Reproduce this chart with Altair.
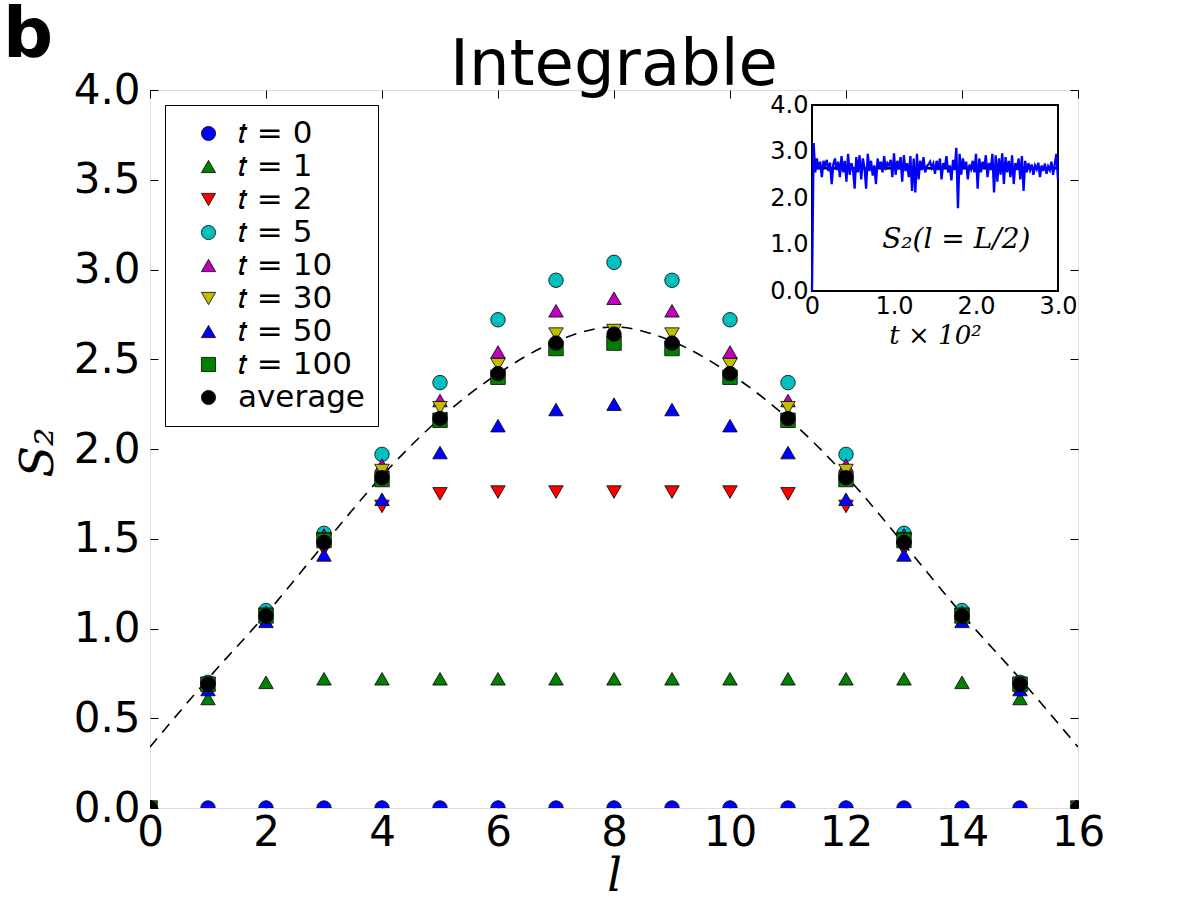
import altair as alt
import pandas as pd

# ---------------- data ----------------
l_vals = list(range(0, 17))
series_names = ["𝑡 = 0", "𝑡 = 1", "𝑡 = 2", "𝑡 = 5", "𝑡 = 10", "𝑡 = 30", "𝑡 = 50", "𝑡 = 100", "average"]
series_colors = ["#0000ff", "#008000", "#ff0000", "#00bfbf", "#bf00bf", "#bfbf00", "#0000ff", "#008000", "#000000"]
series_shapes = ["circle", "triangle-up", "triangle-down", "circle", "triangle-up", "triangle-down", "triangle-up", "square", "circle"]

s_t0 = [0.0, 0.0, 0.0, 0.0, 0.0, 0.0, 0.0, 0.0, 0.0, 0.0, 0.0, 0.0, 0.0, 0.0, 0.0, 0.0, 0.0]
s_t1 = [0.0, 0.61, 0.70, 0.72, 0.72, 0.72, 0.72, 0.72, 0.72, 0.72, 0.72, 0.72, 0.72, 0.72, 0.70, 0.61, 0.0]
s_t2 = [0.0, 0.66, 1.04, 1.44, 1.68, 1.75, 1.76, 1.76, 1.76, 1.76, 1.76, 1.75, 1.68, 1.44, 1.04, 0.66, 0.0]
s_t5 = [0.0, 0.70, 1.10, 1.53, 1.97, 2.37, 2.72, 2.94, 3.04, 2.94, 2.72, 2.37, 1.97, 1.53, 1.10, 0.70, 0.0]
s_t10 = [0.0, 0.69, 1.09, 1.52, 1.91, 2.27, 2.54, 2.77, 2.84, 2.77, 2.54, 2.27, 1.91, 1.52, 1.09, 0.69, 0.0]
s_t30 = [0.0, 0.69, 1.08, 1.50, 1.88, 2.23, 2.47, 2.64, 2.66, 2.64, 2.47, 2.23, 1.88, 1.50, 1.08, 0.69, 0.0]
s_t50 = [0.0, 0.66, 1.04, 1.41, 1.72, 1.98, 2.13, 2.22, 2.25, 2.22, 2.13, 1.98, 1.72, 1.41, 1.04, 0.66, 0.0]
s_t100 = [0.0, 0.69, 1.07, 1.49, 1.83, 2.16, 2.40, 2.56, 2.59, 2.56, 2.40, 2.16, 1.83, 1.49, 1.07, 0.69, 0.0]
s_avg = [0.0, 0.69, 1.07, 1.48, 1.84, 2.17, 2.42, 2.59, 2.64, 2.59, 2.42, 2.17, 1.84, 1.48, 1.07, 0.69, 0.0]
all_series = [s_t0, s_t1, s_t2, s_t5, s_t10, s_t30, s_t50, s_t100, s_avg]

curve_l = list(range(0, 17))
curve_s = [0.34, 0.72, 1.08, 1.47, 1.85, 2.17, 2.42, 2.60, 2.68, 2.60, 2.42, 2.17, 1.85, 1.47, 1.08, 0.72, 0.34]

# inset: S2(l=L/2) vs time (t in units of 10^2)
inset_t = list(range(0, 301, 2))
inset_s = [
    0.00, 3.18, 2.55, 2.85, 2.62, 2.78, 2.45, 2.80, 2.70, 2.82,
    2.58, 2.76, 2.30, 2.72, 2.85, 2.60, 2.78, 2.45, 2.90, 2.55,
    2.80, 2.35, 2.95, 2.50, 2.75, 2.62, 2.20, 2.88, 2.55, 2.92,
    2.40, 2.85, 2.65, 2.20, 2.95, 2.58, 2.80, 2.48, 2.70, 2.30,
    2.85, 2.65, 2.78, 2.55, 2.90, 2.60, 2.75, 2.70, 2.82, 2.45,
    2.96, 2.50, 2.80, 2.62, 2.88, 2.35, 2.92, 2.58, 2.75, 2.45,
    2.90, 2.15, 2.85, 2.12, 2.95, 2.40, 2.80, 2.60, 2.88, 2.55,
    2.68, 2.72, 2.78, 2.65, 2.74, 2.52, 2.80, 2.60, 2.85, 2.40,
    2.75, 2.65, 2.90, 2.55, 2.70, 2.38, 2.82, 2.60, 3.08, 1.78,
    2.95, 2.50, 2.85, 2.65, 2.78, 2.40, 2.72, 2.62, 2.80, 2.55,
    2.95, 2.20, 2.85, 2.55, 2.78, 2.65, 2.92, 2.45, 2.75, 2.60,
    2.95, 2.12, 2.92, 2.35, 2.85, 2.50, 2.96, 2.30, 2.88, 2.55,
    2.80, 2.45, 2.92, 2.30, 2.75, 2.60, 2.85, 2.40, 2.90, 2.15,
    2.80, 2.55, 2.75, 2.60, 2.72, 2.50, 2.70, 2.62, 2.76, 2.45,
    2.70, 2.58, 2.74, 2.52, 2.68, 2.60, 2.78, 2.50, 2.72, 2.95,
    2.40,
]
inset_avg = 2.64
inset_label = "S₂(l = L/2)"
inset_label_pos = [1.76, 1.10]
title_text = "Integrable"
panel_text = "b"

# ---------------- frames ----------------
rows = []
for i, (name, vals) in enumerate(zip(series_names, all_series)):
    for l, v in zip(l_vals, vals):
        rows.append({"l": l, "S2": v, "series": name, "idx": i})
points_df = pd.DataFrame(rows)
curve_df = pd.DataFrame({"l": curve_l, "S2": curve_s})
inset_df = pd.DataFrame({"t": [t / 100 for t in inset_t], "S2": inset_s})
inset_frame_df = pd.DataFrame({"x0": [0.0], "x1": [3.0], "y0": [0.0], "y1": [4.0], "avg": [inset_avg]})
inset_text_df = pd.DataFrame({"x": [inset_label_pos[0]], "y": [inset_label_pos[1]], "txt": [inset_label]})

W, H = 928, 718
FONT = "DejaVu Sans"
TICK = 8

xs_main = alt.Scale(domain=[0, 16], nice=False, zero=False)
ys_main = alt.Scale(domain=[0, 4], nice=False, zero=False)
IX0, IX1, IY0, IY1 = 662, 908, 201, 15
xs_in = alt.Scale(domain=[0, 3], range=[IX0, IX1], nice=False, zero=False)
ys_in = alt.Scale(domain=[0, 4], range=[IY0, IY1], nice=False, zero=False)

common_axis = dict(grid=False, domain=False, tickColor="black", tickWidth=1,
                   labelColor="black", labelFont=FONT, labelOverlap=False, labelFlush=False)

# dashed curve with top/right inward ticks
curve = alt.Chart(curve_df).mark_line(
    color="black", strokeDash=[11, 8], strokeWidth=1.6, interpolate="monotone", clip=True
).encode(
    x=alt.X("l:Q", scale=xs_main, axis=alt.Axis(orient="top", offset=-TICK, tickSize=TICK, labels=False,
                                                 title=None, values=list(range(0, 17, 2)), **common_axis)),
    y=alt.Y("S2:Q", scale=ys_main, axis=alt.Axis(orient="right", offset=-TICK, tickSize=TICK, labels=False,
                                                  title=None, values=[i * 0.5 for i in range(9)], **common_axis)),
)

points = alt.Chart(points_df).mark_point(
    filled=True, size=210, opacity=1, stroke="black", strokeWidth=0.8, clip=True
).encode(
    x=alt.X("l:Q", scale=xs_main, axis=alt.Axis(
        orient="bottom", offset=-TICK, tickSize=TICK, labelPadding=4, labelFontSize=42,
        values=list(range(0, 17, 2)), title="l", titleFont="DejaVu Serif", titleFontStyle="italic",
        titleFontWeight="normal", titleFontSize=46, titleColor="black",
        titleX=W / 2, titleY=90, titleBaseline="alphabetic", titleAlign="center", **common_axis)),
    y=alt.Y("S2:Q", scale=ys_main, axis=alt.Axis(
        orient="left", offset=-TICK, tickSize=TICK, labelPadding=10, labelFontSize=42, format=".1f",
        values=[i * 0.5 for i in range(9)], title="S₂", titleFont="DejaVu Serif", titleFontStyle="italic",
        titleFontWeight="normal", titleFontSize=46, titleColor="black", titleAngle=270,
        titleX=-120, titleY=362, titleBaseline="middle", titleAlign="center", **common_axis)),
    fill=alt.Fill("series:N", sort=series_names,
                  scale=alt.Scale(domain=series_names, range=series_colors),
                  legend=alt.Legend(
                      title=None, orient="none", legendX=15, legendY=15, direction="vertical",
                      fillColor="white", strokeColor="black",
                      padding=13, symbolOffset=15, labelOffset=14, rowPadding=1,
                      labelFont=FONT, labelFontSize=31, labelColor="black",
                      symbolSize=200, symbolStrokeColor="black", symbolStrokeWidth=0.8,
                      symbolOpacity=1, labelLimit=400)),
    shape=alt.Shape("series:N", sort=series_names,
                    scale=alt.Scale(domain=series_names, range=series_shapes)),
    order=alt.Order("idx:Q"),
)

# inset background + top/right inward ticks
inset_bg = alt.Chart(inset_frame_df).mark_rect(
    fill="white", stroke="black", strokeWidth=2
).encode(
    x=alt.X("x0:Q", scale=xs_in, axis=alt.Axis(orient="top", offset=-(IY1 + 5), tickSize=5, labels=False,
                                                title=None, values=[i * 0.5 for i in range(7)], **common_axis)),
    x2="x1:Q",
    y=alt.Y("y0:Q", scale=ys_in, axis=alt.Axis(orient="right", offset=-(W - IX1 + 5), tickSize=5, labels=False,
                                                title=None, values=[i * 0.5 for i in range(9)], **common_axis)),
    y2="y1:Q",
)

inset_line = alt.Chart(inset_df).mark_line(color="#0000ff", strokeWidth=2.3).encode(
    x=alt.X("t:Q", scale=xs_in, axis=alt.Axis(
        orient="bottom", offset=-(H - IY0 + 5), tickSize=5, labelPadding=3, labelFontSize=24,
        values=[i * 0.5 for i in range(7)],
        labelExpr="datum.value == 0 ? '0' : (datum.value % 1 == 0 ? format(datum.value, '.1f') : '')",
        title="t × 10²", titleFont="DejaVu Serif", titleFontStyle="italic", titleFontWeight="normal",
        titleFontSize=26, titleColor="black", titleX=785, titleY=57, titleBaseline="alphabetic",
        titleAlign="center", **common_axis)),
    y=alt.Y("S2:Q", scale=ys_in, axis=alt.Axis(
        orient="left", offset=-(IX0 + 5), tickSize=5, labelPadding=4, labelFontSize=24,
        values=[i * 0.5 for i in range(9)],
        labelExpr="datum.value % 1 == 0 ? format(datum.value, '.1f') : ''",
        title=None, **common_axis)),
)

inset_avg_line = alt.Chart(inset_frame_df).mark_rule(color="black", strokeWidth=2.3).encode(
    x=alt.X("x0:Q", scale=xs_in, axis=None),
    x2="x1:Q",
    y=alt.Y("avg:Q", scale=ys_in, axis=None),
)

inset_text = alt.Chart(inset_text_df).mark_text(
    font="DejaVu Serif", fontStyle="italic", fontSize=28, color="black", align="center", baseline="middle"
).encode(
    x=alt.X("x:Q", scale=xs_in, axis=None),
    y=alt.Y("y:Q", scale=ys_in, axis=None),
    text="txt:N",
)

panel_label = alt.Chart(pd.DataFrame({"txt": [panel_text]})).mark_text(
    font=FONT, fontWeight="bold", fontSize=70, color="black", align="left", baseline="alphabetic"
).encode(
    x=alt.value(-147), y=alt.value(-33), text="txt:N"
)

title_mark = alt.Chart(pd.DataFrame({"txt": [title_text]})).mark_text(
    font=FONT, fontSize=64, color="black", align="center", baseline="alphabetic"
).encode(
    x=alt.value(W / 2), y=alt.value(-5), text="txt:N"
)

chart = alt.layer(
    curve, points, inset_bg, inset_avg_line, inset_line, inset_text, panel_label, title_mark
).resolve_scale(
    x="independent", y="independent"
).properties(
    width=W, height=H,
    autosize=alt.AutoSizeParams(type="none"),
    padding={"left": 150, "top": 90, "right": 122, "bottom": 92},
).configure_view(
    stroke="black", strokeWidth=2
).configure_legend(
    strokeWidth=1.5, cornerRadius=0
).configure(
    background="white"
)

chart.save("out.html", embed_options={"renderer": "svg", "actions": False})
